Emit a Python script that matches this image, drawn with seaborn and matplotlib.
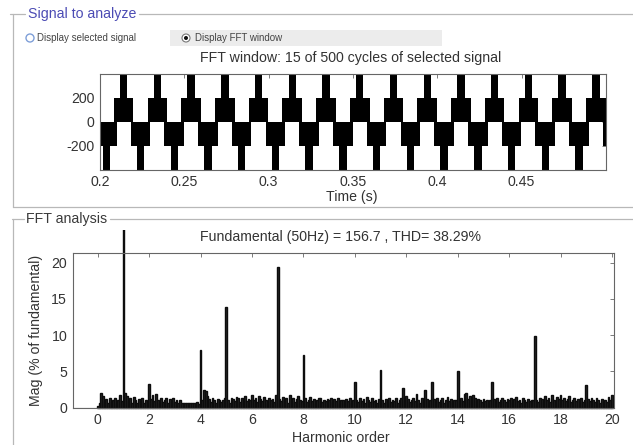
import numpy as np
import pandas as pd
import matplotlib
matplotlib.use('Agg')
import matplotlib.pyplot as plt
import seaborn as sns
from matplotlib.lines import Line2D
from matplotlib.patches import Circle, Rectangle
from matplotlib.transforms import Bbox, TransformedBbox

# --- data ---
# upper plot: one PWM block per half cycle (50 Hz, 15 cycles shown)
pos_peak_times = [0.214, 0.234, 0.254, 0.274, 0.294, 0.314, 0.334, 0.354,
                  0.374, 0.394, 0.414, 0.434, 0.454, 0.474, 0.494]
neg_peak_times = [0.204, 0.224, 0.244, 0.264, 0.284, 0.304, 0.324, 0.344,
                  0.364, 0.384, 0.404, 0.424, 0.444, 0.464, 0.484, 0.504]
levels = [0, 200, 400]
inner_half_width = 0.0058   # band 0..200
outer_half_width = 0.0022   # band 200..400
time_ticks = [0.2, 0.25, 0.3, 0.35, 0.4, 0.45]
time_labels = ['0.2', '0.25', '0.3', '0.35', '0.4', '0.45']

# lower plot: spectrum magnitude (% of fundamental), 15 bins per harmonic
mag_rows = [
    [0.3, 0.6, 2.0, 1.6, 0.9, 1.2, 0.7, 1.3, 0.8, 1.0, 1.4, 0.6, 1.1, 1.8, 0.9],
    [100, 2.0, 1.6, 0.9, 1.3, 0.7, 1.5, 1.0, 0.6, 1.2, 0.8, 1.4, 0.7, 1.1, 0.9],
    [3.3, 1.2, 1.8, 0.9, 1.9, 1.0, 0.6, 1.3, 0.8, 1.1, 1.4, 0.7, 1.2, 0.9, 1.3],
    [0.8, 1.1, 0.6, 1.0, 0.7, 0.6, 0.7, 0.6, 0.7, 0.6, 0.7, 0.6, 0.7, 0.8, 0.5],
    [7.9, 1.0, 2.4, 2.3, 1.6, 1.2, 0.8, 1.3, 1.0, 0.7, 1.2, 1.1, 0.8, 1.0, 1.3],
    [13.9, 1.1, 0.7, 1.4, 1.2, 0.9, 1.5, 1.3, 0.8, 1.4, 1.1, 1.6, 0.9, 1.2, 1.0],
    [1.8, 1.0, 1.4, 0.8, 1.6, 1.2, 0.9, 1.5, 1.1, 0.7, 1.3, 1.0, 1.2, 0.8, 1.7],
    [19.4, 1.2, 0.9, 1.5, 1.0, 1.3, 0.7, 1.8, 1.1, 1.4, 0.8, 1.2, 1.6, 1.0, 0.9],
    [7.2, 1.3, 0.8, 1.1, 1.5, 0.9, 1.2, 0.7, 1.0, 1.4, 1.3, 0.8, 1.1, 0.9, 1.2],
    [1.0, 1.4, 0.8, 1.2, 0.9, 1.3, 0.7, 1.1, 1.0, 0.8, 1.2, 0.9, 1.4, 0.7, 1.0],
    [3.6, 1.1, 0.8, 1.4, 0.9, 1.2, 0.7, 1.5, 1.0, 0.8, 1.3, 0.9, 1.1, 0.7, 1.2],
    [5.2, 1.0, 0.7, 1.2, 0.9, 1.4, 0.8, 1.1, 0.9, 1.3, 0.7, 1.0, 1.4, 2.7, 1.1],
    [1.6, 1.2, 0.8, 1.0, 1.3, 0.9, 1.9, 1.1, 0.7, 1.3, 1.0, 2.4, 1.2, 0.9, 1.1],
    [3.6, 1.2, 0.9, 1.4, 0.8, 1.1, 1.3, 0.7, 1.0, 1.5, 0.9, 1.2, 0.8, 1.1, 1.0],
    [5.1, 1.0, 1.3, 0.9, 1.9, 2.0, 1.2, 1.6, 1.0, 1.8, 1.3, 0.9, 1.2, 1.0, 0.8],
    [1.2, 0.9, 1.1, 0.8, 1.0, 3.6, 1.2, 0.9, 1.3, 0.8, 1.1, 1.4, 1.0, 0.8, 1.2],
    [1.0, 1.4, 0.8, 1.2, 1.5, 0.9, 1.1, 0.7, 1.3, 1.0, 0.8, 1.2, 0.9, 1.1, 1.0],
    [9.9, 1.1, 0.8, 1.4, 1.2, 0.9, 1.6, 1.0, 1.3, 0.8, 1.7, 1.1, 0.9, 1.5, 1.2],
    [1.8, 1.0, 1.4, 0.9, 1.2, 1.6, 0.8, 1.1, 1.3, 0.9, 1.2, 1.0, 1.4, 0.8, 1.1],
    [3.1, 1.2, 0.9, 1.4, 1.0, 0.8, 1.3, 1.1, 0.7, 1.2, 0.9, 1.1, 0.8, 1.5, 1.0],
    [1.7],
]
bins_per_harmonic = 15
harm_ticks = [0, 2, 4, 6, 8, 10, 12, 14, 16, 18, 20]
mag_ticks = [0, 5, 10, 15, 20]

magnitude = np.concatenate([np.array(r, dtype=float) for r in mag_rows])
harmonic = np.arange(len(magnitude)) / bins_per_harmonic
spec_df = pd.DataFrame({'harmonic': harmonic, 'mag': magnitude})

# --- style ---
sns.set_style('white')
plt.rcParams['font.family'] = ['Liberation Sans', 'DejaVu Sans']
fs = 10.2
txt = '#333333'

W, H = 633, 445
fig = plt.figure(figsize=(W / 100, H / 100), dpi=100)
fig.patch.set_facecolor('white')


def fx(x):
    return x / W


def fy(y):
    return 1 - y / H


# panel frames
frame_col = '#b8b8b8'
for seg in [((10, 25), (14, 14)), ((139, 633), (14, 14)), ((12.5, 12.5), (14, 207)),
            ((12.5, 633), (207, 207)),
            ((12, 24), (219, 219)), ((110, 633), (219, 219)), ((12.5, 12.5), (219, 445))]:
    fig.add_artist(Line2D([fx(v) for v in seg[0]], [fy(v) for v in seg[1]],
                          color=frame_col, lw=0.9))
fig.text(fx(28), fy(14), 'Signal to analyze', color='#4b4bb4', fontsize=fs, va='center')
fig.text(fx(26), fy(219), 'FFT analysis', color='#3a3a3a', fontsize=fs, va='center')

# radio buttons row
fig.add_artist(Rectangle((fx(170), fy(46)), fx(442) - fx(170), fy(30) - fy(46),
                         transform=fig.transFigure, color='#ececec', lw=0))
fig.add_artist(Circle((30 / 100, (H - 38) / 100), 0.04, transform=fig.dpi_scale_trans,
                      facecolor='white', edgecolor='#7f9fd8', lw=1.0))
fig.add_artist(Circle((186 / 100, (H - 38) / 100), 0.04, transform=fig.dpi_scale_trans,
                      facecolor='white', edgecolor='#777777', lw=0.8))
fig.add_artist(Circle((186 / 100, (H - 38) / 100), 0.02, transform=fig.dpi_scale_trans,
                      facecolor='#111111', lw=0))
fig.text(fx(37), fy(38), 'Display selected signal', color='#444444', fontsize=7, va='center')
fig.text(fx(195), fy(38), 'Display FFT window', color='#444444', fontsize=7, va='center')

# --- upper axes: signal in FFT window ---
ax1 = fig.add_axes([fx(100), fy(169.5), fx(606) - fx(100), fy(74) - fy(169.5)])
for t in pos_peak_times:
    ax1.fill_between([t - inner_half_width, t + inner_half_width], levels[0], levels[1],
                     color='black', lw=0)
    ax1.fill_between([t - outer_half_width, t + outer_half_width], levels[1], levels[2],
                     color='black', lw=0)
for t in neg_peak_times:
    ax1.fill_between([t - inner_half_width, t + inner_half_width], -levels[1], levels[0],
                     color='black', lw=0)
    ax1.fill_between([t - outer_half_width, t + outer_half_width], -levels[2], -levels[1],
                     color='black', lw=0)
ax1.set_xlim(0.2, 0.5)
ax1.set_ylim(-400, 400)
ax1.set_xticks(time_ticks)
ax1.set_xticklabels(time_labels)
ax1.set_yticks([-200, 0, 200])
ax1.set_yticklabels(['-200', '0', '200'])
fig.text(fx(350.5), fy(58), 'FFT window: 15 of 500 cycles of selected signal',
         ha='center', va='center', color=txt, fontsize=fs)
fig.text(fx(352), fy(197.5), 'Time (s)', ha='center', va='center', color=txt, fontsize=fs)

# --- lower axes: spectrum ---
ax2 = fig.add_axes([fx(72.7), fy(407.7), fx(614) - fx(72.7), fy(252.7) - fy(407.7)])
sns.barplot(data=spec_df, x='harmonic', y='mag', native_scale=True, width=1.0,
            color='#262626', saturation=1, edgecolor='#0d0d0d', linewidth=1.0,
            errorbar=None, ax=ax2)
ax2.axhline(0, color='#888888', lw=0.8, zorder=0)
ax2.set_xlim(-0.97, 20.08)
ax2.set_ylim(0, 21.35)
ax2.set_xticks(harm_ticks)
ax2.set_xticklabels([str(v) for v in harm_ticks])
ax2.set_yticks(mag_ticks)
ax2.set_xlabel('')
ax2.set_ylabel('')
# the fundamental bar runs past the axes box, up to inside the panel
clip = TransformedBbox(Bbox.from_extents(0, 0, 1, fy(230)), fig.transFigure)
for p in ax2.patches:
    p.set_clip_path(None)
    p.set_clip_box(clip)
fig.text(fx(340), fy(237), 'Fundamental (50Hz) = 156.7 , THD= 38.29%',
         ha='center', va='center', color=txt, fontsize=fs)
fig.text(fx(341), fy(438), 'Harmonic order', ha='center', va='center', color=txt, fontsize=fs)
fig.text(fx(36), fy(330), 'Mag (% of fundamental)', ha='center', va='center',
         rotation=90, color=txt, fontsize=fs)

for ax in (ax1, ax2):
    for s in ax.spines.values():
        s.set_visible(True)
        s.set_color('#666666')
        s.set_linewidth(0.8)
    ax.tick_params(direction='in', top=True, right=True, length=3, width=0.6,
                   colors='#666666', labelcolor=txt, labelsize=fs, pad=4)

fig.savefig('out.png', dpi=100)
